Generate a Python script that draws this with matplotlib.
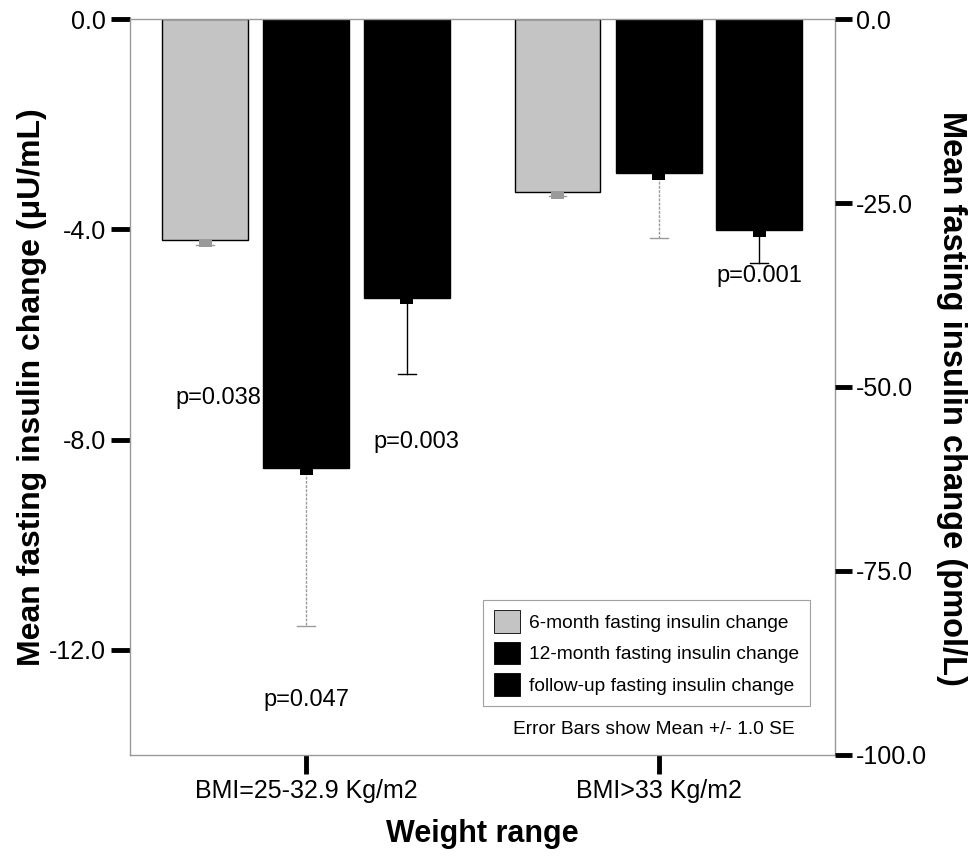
import numpy as np
import matplotlib
matplotlib.use("Agg")
import matplotlib.pyplot as plt
from matplotlib.patches import Patch

plt.rcParams['font.family'] = ['Liberation Sans', 'DejaVu Sans']

groups = ['BMI=25-32.9 Kg/m2', 'BMI>33 Kg/m2']
series = ['6-month fasting insulin change',
          '12-month fasting insulin change',
          'follow-up fasting insulin change']
means = {
    series[0]: [-4.20, -3.29],
    series[1]: [-8.55, -2.93],
    series[2]: [-5.30, -4.01],
}
se = {
    series[0]: [0.10, 0.08],
    series[1]: [3.00, 1.23],
    series[2]: [1.45, 0.63],
}
pvals = ['p=0.038', 'p=0.047', 'p=0.003', 'p=0.001']
left_ticks = [0.0, -4.0, -8.0, -12.0]
right_ticks = [0.0, -25.0, -50.0, -75.0, -100.0]

bar_colors = ['#c4c4c4', 'black', 'black']
err_colors = ['#9a9a9a', '#9a9a9a', 'black']

fig = plt.figure(figsize=(9.78, 8.56), dpi=100)
ax = fig.add_axes([0.1329, 0.118, 0.7209, 0.8598])

x = np.arange(len(groups))
offs = [-0.287, 0.0, 0.285]
w = 0.243
for i, s in enumerate(series):
    xs = x + offs[i]
    ax.bar(xs, means[s], width=w, color=bar_colors[i], edgecolor='black', linewidth=1.0, zorder=2)
    # small stub under each bar, then the lower error whisker
    ax.bar(xs, -0.13, bottom=means[s], width=0.037, color=err_colors[i] if i == 0 else 'black', zorder=3)
    lows = np.array(means[s]) - np.array(se[s])
    for xx, m, lo in zip(xs, means[s], lows):
        ax.plot([xx, xx], [m, lo], color=err_colors[i], lw=1.0, ls=(0, (2, 1)) if i == 1 else '-', zorder=1)
        ax.plot([xx - 0.025, xx + 0.025], [lo, lo], color=err_colors[i], lw=1.0, zorder=1)

ax.set_xlim(-0.5, 1.5)
ax.set_ylim(-14.0, 0.0)
ax.set_yticks(left_ticks)
ax.set_yticklabels([f'{v:.1f}' for v in left_ticks])
ax.set_xticks(x)
ax.set_xticklabels(groups)
ax.tick_params(axis='both', labelsize=18, length=14, width=3.5, pad=3, color='black')

for sp in ax.spines.values():
    sp.set_color('#999999')
    sp.set_linestyle((0, (1, 1)))
    sp.set_linewidth(1.0)

ax.set_ylabel('Mean fasting insulin change (\u03bcU/mL)', fontsize=23, fontweight='bold', labelpad=2)
ax.set_xlabel('Weight range', fontsize=22, fontweight='bold', labelpad=12)

ax2 = ax.twinx()
ax2.set_ylim(-100.0, 0.0)
ax2.set_yticks(right_ticks)
ax2.set_yticklabels([f'{v:.1f}' for v in right_ticks])
ax2.tick_params(axis='y', labelsize=18, length=12, width=3.5, pad=3)
for sp in ax2.spines.values():
    sp.set_visible(False)
ax2.set_ylabel('Mean fasting insulin change (pmol/L)', fontsize=23.5, fontweight='bold',
               rotation=270, labelpad=22)
ax2.yaxis.set_label_coords(1.187, 0.485)

# p-value annotations
ax.text(x[0] + offs[1] - w / 2 - 0.005, -7.2, pvals[0], fontsize=17, ha='right', va='center')
ax.text(x[0], -12.95, pvals[1], fontsize=17, ha='center', va='center')
ax.text(x[0] + offs[2] - 0.095, -8.05, pvals[2], fontsize=17, ha='left', va='center')
ax.text(x[1] + offs[2], -4.88, pvals[3], fontsize=17, ha='center', va='center')

handles = [Patch(facecolor=bar_colors[i], edgecolor='black', linewidth=0.6) for i in range(3)]
leg = ax.legend(handles, series, loc='lower right', bbox_to_anchor=(0.9645, 0.066),
                fontsize=13.8, frameon=True, fancybox=False, handlelength=1.35, handleheight=1.45,
                borderpad=0.55, labelspacing=0.45, handletextpad=0.5, borderaxespad=0)
leg.get_frame().set_edgecolor('#888888')
leg.get_frame().set_linewidth(0.8)

ax.text(0.7435, 0.034, 'Error Bars show Mean +/- 1.0 SE', transform=ax.transAxes,
        fontsize=13.8, ha='center', va='center')

fig.savefig('out.png', dpi=100)
